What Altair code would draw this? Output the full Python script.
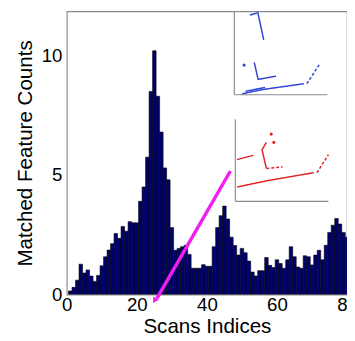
import altair as alt
import pandas as pd

# ---------------- data ----------------
scan_index = list(range(1, 81))
matched_counts = [0.15, 0.3, 0.6, 1.27, 0.9, 1.03, 0.77, 0.55, 0.8, 1.2,
                  1.58, 1.86, 2.13, 2.55, 2.35, 2.85, 2.65, 3.05, 3.0, 3.0,
                  3.9, 4.5, 5.75, 8.5, 10.2, 8.3, 6.8, 5.3, 4.8, 2.8,
                  1.85, 1.93, 2.0, 2.06, 1.68, 1.1, 1.1, 1.1, 1.25, 1.18,
                  1.18, 2.0, 2.8, 3.3, 3.7, 3.16, 2.4, 2.05, 1.65, 1.93,
                  1.75, 1.4, 0.94, 0.78, 1.0, 1.0, 1.55, 1.22, 1.13, 1.45,
                  1.3, 1.1, 1.45, 2.0, 1.58, 1.15, 1.1, 1.62, 1.58, 1.24,
                  1.65, 1.85, 1.45, 2.06, 2.6, 2.9, 3.18, 2.95, 2.6, 2.4]

x_tick_values = [0, 20, 40, 60, 80]
y_tick_values = [0, 5, 10]
x_title = "Scans Indices"
y_title = "Matched Feature Counts"

# inset scans: local coordinates (0..1) inside each inset box
blue_seg = ["a", "a", "a", "c", "c", "c", "d", "d", "d", "d2", "d2", "e", "e"]
blue_u = [0.168, 0.253, 0.316, 0.214, 0.256, 0.449, 0.084, 0.30, 0.747, 0.12, 0.33, 0.779, 0.923]
blue_v = [0.924, 0.951, 0.636, 0.375, 0.178, 0.216, 0.011, 0.06, 0.128, 0.04, 0.085, 0.128, 0.367]
blue_dashed_segs = ["e"]
blue_dot_u = [0.105]
blue_dot_v = [0.344]

red_seg = ["a", "a", "c", "c", "c", "c2", "c2", "d", "d", "d", "e", "e"]
red_u = [0.018, 0.193, 0.334, 0.287, 0.334, 0.334, 0.508, 0.018, 0.351, 0.842, 0.877, 1.0]
red_v = [0.508, 0.56, 0.718, 0.627, 0.401, 0.401, 0.42, 0.175, 0.254, 0.349, 0.349, 0.568]
red_dashed_segs = ["c2", "e"]
red_dot_u = [0.386, 0.414]
red_dot_v = [0.818, 0.718]

# inset boxes in data units: (x0, x1, y0, y1)
blue_box = (47.83, 74.41, 8.36, 11.97)
red_box = (48.11, 74.69, 3.895, 7.34)

# magenta pointer (data units)
pointer_x = [25.73, 46.71]
pointer_y = [-0.16, 5.17]
pointer_tip_x = [25.2]
pointer_tip_y = [-0.22]

# ---------------- build tables ----------------
bars_df = pd.DataFrame({
    "x": [i - 0.5 for i in scan_index],
    "x2": [i + 0.5 for i in scan_index],
    "y": matched_counts,
})


def place(u, v, box):
    x0, x1, y0, y1 = box
    return ([x0 + a * (x1 - x0) for a in u], [y0 + b * (y1 - y0) for b in v])


rows = []
for name, segs, us, vs, box, dsegs in [
    ("blue", blue_seg, blue_u, blue_v, blue_box, blue_dashed_segs),
    ("red", red_seg, red_u, red_v, red_box, red_dashed_segs),
]:
    xs_, ys_ = place(us, vs, box)
    for k, (s, xx, yy) in enumerate(zip(segs, xs_, ys_)):
        rows.append({"scan": name, "key": name + s, "order": k, "x": xx, "y": yy,
                     "dash": "dashed" if s in dsegs else "solid"})
scan_df = pd.DataFrame(rows)

dot_rows = []
for name, us, vs, box in [("blue", blue_dot_u, blue_dot_v, blue_box),
                          ("red", red_dot_u, red_dot_v, red_box)]:
    xs_, ys_ = place(us, vs, box)
    for xx, yy in zip(xs_, ys_):
        dot_rows.append({"scan": name, "x": xx, "y": yy})
dot_df = pd.DataFrame(dot_rows)

frame_rows = []
for box in [blue_box, red_box]:
    x0, x1, y0, y1 = box
    frame_rows.append({"x": x0, "y": y0, "x2": x0, "y2": y1})
    frame_rows.append({"x": x0, "y": y0, "x2": x1, "y2": y0})
frame_df = pd.DataFrame(frame_rows)

pointer_df = pd.DataFrame({"x": pointer_x, "y": pointer_y})
tip_df = pd.DataFrame({"x": pointer_tip_x, "y": pointer_tip_y})

xs = alt.Scale(domain=[0, 80], nice=False, zero=False)
ys = alt.Scale(domain=[0, 11.85], nice=False, zero=False)
x_axis = alt.Axis(values=x_tick_values, title=x_title, labelFlush=False,
                  ticks=False, domain=False, labelPadding=1, titlePadding=2, grid=False)
y_axis = alt.Axis(values=y_tick_values, title=y_title, ticks=False,
                  domain=False, labelPadding=5, titlePadding=6, grid=False)
X = alt.X("x:Q", scale=xs, axis=x_axis, title=x_title)
Y = alt.Y("y:Q", scale=ys, axis=y_axis, title=y_title)
scan_colors = alt.Scale(domain=["blue", "red"], range=["#2f45d8", "#e02424"])

bars = alt.Chart(bars_df).mark_rect(
    fill="#00006e", stroke="#000000", strokeWidth=0.6, clip=True
).encode(x=X, x2="x2:Q", y=Y, y2=alt.datum(0))

frames = alt.Chart(frame_df).mark_rule(color="#8c8c8c", strokeWidth=1.2, clip=True).encode(
    x=X, y=Y, x2="x2:Q", y2="y2:Q",
)

scan_lines = alt.Chart(scan_df).mark_line(strokeWidth=1.5, clip=True).encode(
    x=X, y=Y,
    color=alt.Color("scan:N", scale=scan_colors, legend=None),
    detail="key:N",
    order="order:Q",
    strokeDash=alt.StrokeDash("dash:N",
                              scale=alt.Scale(domain=["solid", "dashed"],
                                              range=[[1, 0], [3, 2]]),
                              legend=None),
)

scan_dots = alt.Chart(dot_df).mark_circle(size=10, opacity=1, clip=True).encode(
    x=X, y=Y,
    color=alt.Color("scan:N", scale=scan_colors, legend=None),
)

pointer = alt.Chart(pointer_df).mark_line(color="#f01ef0", strokeWidth=3.5, clip=False).encode(
    x=X, y=Y,
)

tip = alt.Chart(tip_df).mark_point(
    shape="triangle", filled=True, size=45, angle=211, color="#f01ef0", opacity=1, clip=False
).encode(x=X, y=Y)

chart = alt.layer(bars, frames, scan_lines, scan_dots, pointer, tip).properties(
    width=286,
    height=289,
    autosize=alt.AutoSizeParams(type="none"),
    padding={"left": 60, "top": 0, "right": 0, "bottom": 44},
).configure(
    font="Liberation Sans"
).configure_view(
    stroke="#8c8c8c", strokeWidth=1.2
).configure_axis(
    labelFont="Liberation Sans", titleFont="Liberation Sans",
    labelFontSize=19, titleFontSize=21, labelColor="#000000", titleColor="#000000",
    titleFontWeight="normal",
)

chart.save("out.html", embed_options={"renderer": "svg", "actions": False})
